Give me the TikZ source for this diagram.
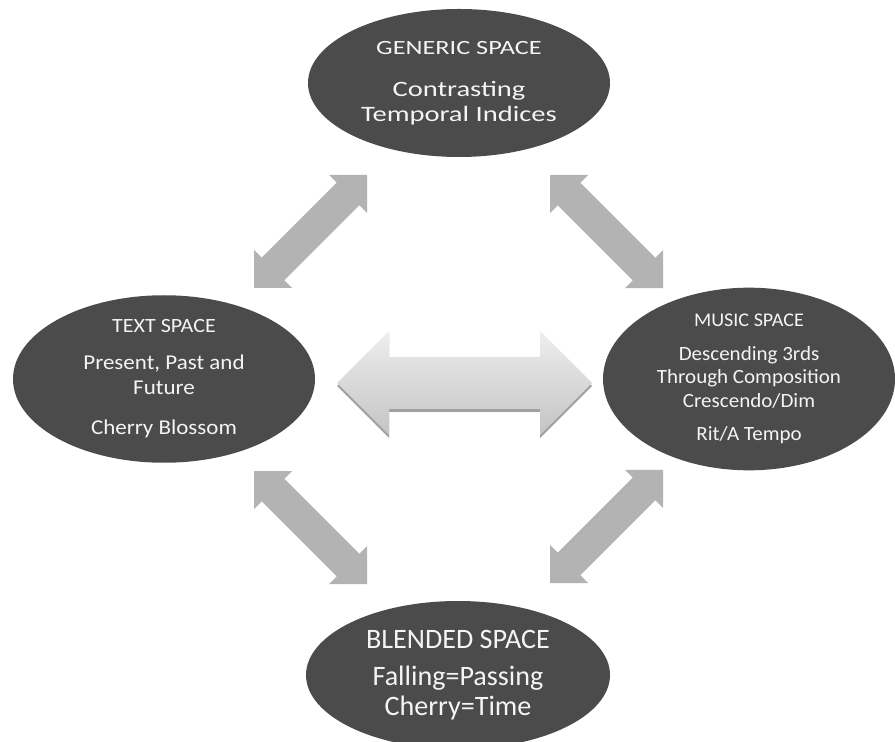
\documentclass[tikz,border=0pt]{standalone}
\usepackage{fontspec}
\setmainfont{Carlito}
\usepackage{xcolor}
\usetikzlibrary{shapes.geometric}
\definecolor{vspace}{HTML}{4B4B4B}
\definecolor{vtext}{HTML}{F4F4F4}
\definecolor{vlink}{HTML}{B3B3B3}
\definecolor{vblendtop}{HTML}{EEEEEE}
\definecolor{vblendbot}{HTML}{C4C4C4}
\definecolor{vshadow}{HTML}{A0A0A0}

\tikzset{
	space/.style={ellipse, fill=vspace, text=vtext, align=center, inner sep=0pt, minimum height=2.96cm}
}

\begin{document}
\begin{tikzpicture}[x=0.2mm, y=-0.2mm]
		\useasboundingbox (0,0) rectangle (895,742);
		\clip (0,0) rectangle (895,742);
		\node[space, xscale=1.3, minimum width=4.646cm, font=\fontsize{12.5pt}{14pt}\selectfont] (generic) at (459,83) {{\fontsize{11.5pt}{12pt}\selectfont GENERIC SPACE}\\[10pt]Contrasting\\Temporal Indices};
		\node[space, xscale=1.09, minimum width=5.541cm, font=\fontsize{12pt}{14pt}\selectfont] (text) at (164,379) {{\fontsize{11.5pt}{12pt}\selectfont TEXT SPACE}\\[7pt]Present, Past and\\Future\\[9pt]Cherry Blossom};
		\node[space, xscale=1.04, minimum width=5.615cm, font=\fontsize{11.5pt}{13.4pt}\selectfont] (music) at (749,379) {{\fontsize{11pt}{12pt}\selectfont MUSIC SPACE}\\[5.4pt]Descending 3rds\\Through Composition\\Crescendo/Dim\\[5.5pt]Rit/A Tempo};
		\node[space, minimum width=6.08cm, font=\fontsize{16pt}{17pt}\selectfont] (blended) at (458,675) {BLENDED SPACE\\[4pt]Falling=Passing\\Cherry=Time};
		\foreach \name/\tx/\ty/\ang in {gen-text/254/288/45, gen-music/550/175/-45, text-blend/254/471/-45, music-blend/550/583/45}{
			\coordinate (\name) at (\tx,\ty);
			\fill[vlink, shift={(\name)}, rotate=\ang] (0,0) -- (27,27) -- (27,16) -- (133,16) -- (133,27) -- (160,0) -- (133,-27) -- (133,-16) -- (27,-16) -- (27,-27) -- cycle;
		}
		\coordinate (text-music) at (337,383);
		\fill[vshadow, shift={(text-music)}, yshift=-0.06cm] (0,0) -- (52,-52) -- (52,-26) -- (203,-26) -- (203,-52) -- (255,0) -- (203,52) -- (203,26) -- (52,26) -- (52,52) -- cycle;
		\shade[top color=vblendtop, bottom color=vblendbot, shift={(text-music)}] (0,0) -- (52,-52) -- (52,-26) -- (203,-26) -- (203,-52) -- (255,0) -- (203,52) -- (203,26) -- (52,26) -- (52,52) -- cycle;
	\end{tikzpicture}
\end{document}
